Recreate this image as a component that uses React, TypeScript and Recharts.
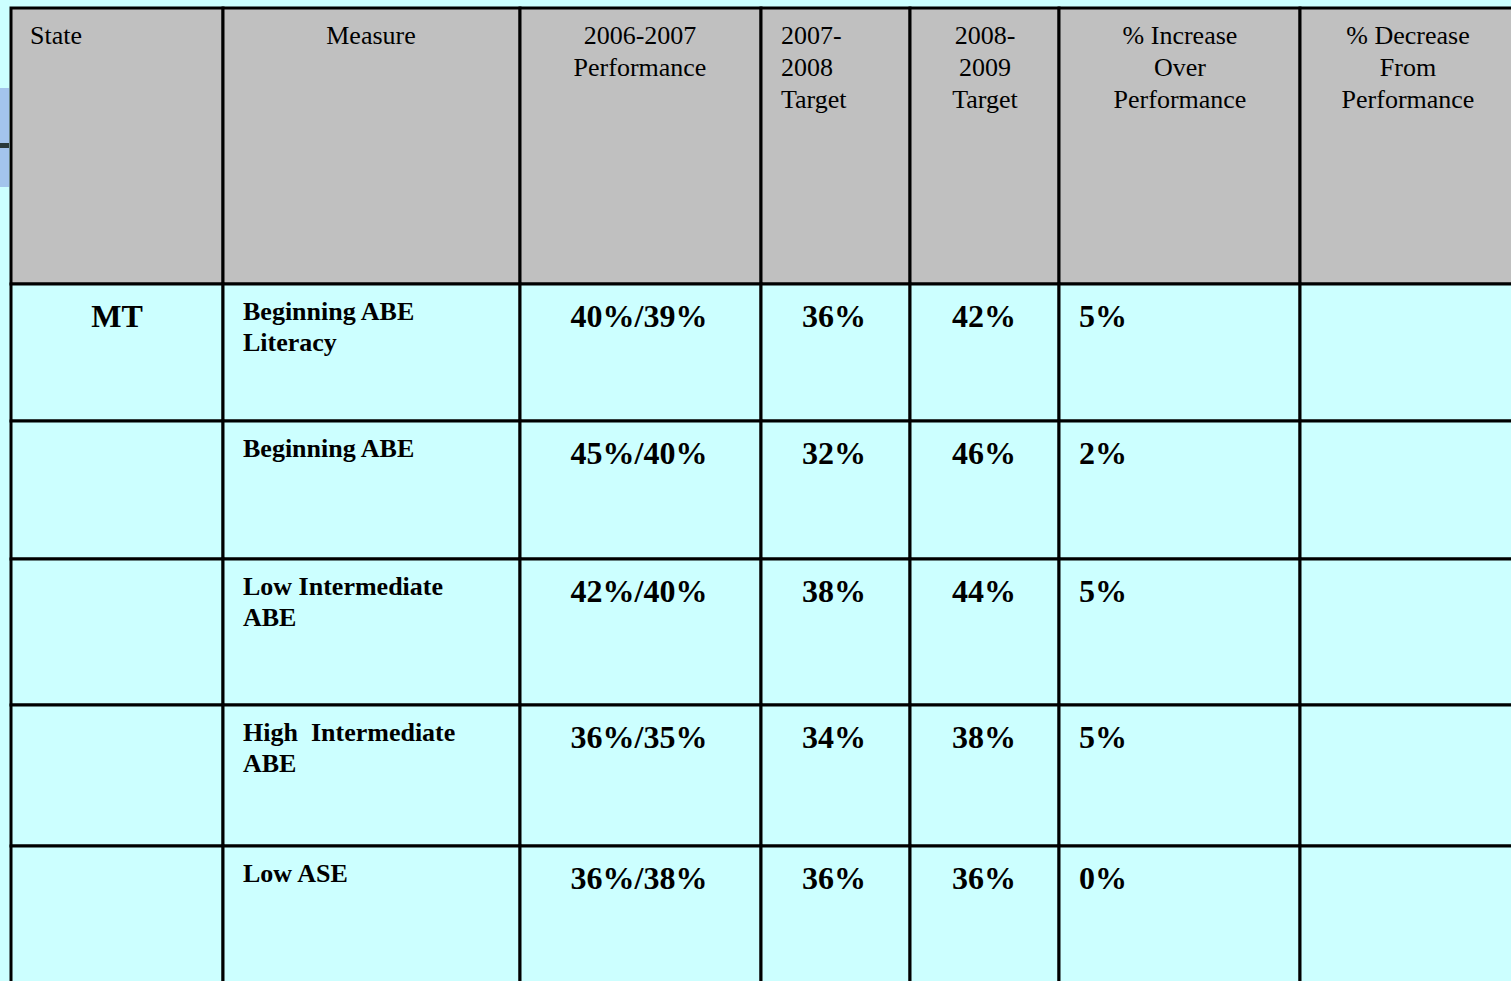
import React from 'react'
import { ComposedChart, XAxis, YAxis, ReferenceArea, Scatter } from 'recharts'

// table content
const headers = [
  ['State'],
  ['Measure'],
  ['2006-2007', 'Performance'],
  ['2007-', '2008', 'Target'],
  ['2008-', '2009', 'Target'],
  ['% Increase', 'Over', 'Performance'],
  ['% Decrease', 'From', 'Performance'],
]
const states = ['MT', '', '', '', '']
const measures = [
  ['Beginning ABE', 'Literacy'],
  ['Beginning ABE'],
  ['Low Intermediate', 'ABE'],
  ['High  Intermediate', 'ABE'],
  ['Low ASE'],
]
const performance = ['40%/39%', '45%/40%', '42%/40%', '36%/35%', '36%/38%']
const target2008 = ['36%', '32%', '38%', '34%', '36%']
const target2009 = ['42%', '46%', '44%', '38%', '36%']
const increase = ['5%', '2%', '5%', '5%', '0%']
const decrease = ['', '', '', '', '']

// layout
const W = 1511
const H = 981
const colEdges = [11, 223, 520, 761, 910, 1059, 1300, 1530]
const rowEdges = [8, 284, 421, 559, 705, 846, 1000]
const headAnchor: [number, string][] = [
  [30, 'start'], [371, 'middle'], [640, 'middle'], [781, 'start'],
  [985, 'middle'], [1180, 'middle'], [1408, 'middle'],
]
const bodyAnchor: [number, string][] = [
  [117, 'middle'], [243, 'start'], [639, 'middle'], [834, 'middle'],
  [984, 'middle'], [1079, 'start'], [1408, 'middle'],
]

type TextItem = {
  x: number
  y: number
  lines: string[]
  anchor: string
  size: number
  weight: string
  lh: number
}

const textItems: TextItem[] = []
headers.forEach((lines, c) => {
  textItems.push({ x: headAnchor[c][0], y: 44, lines, anchor: headAnchor[c][1], size: 26, weight: 'normal', lh: 32 })
})
const bodyCols = [states, measures, performance, target2008, target2009, increase, decrease]
bodyCols.forEach((col, c) => {
  col.forEach((v, r) => {
    const lines = Array.isArray(v) ? v : [v]
    if (!lines[0]) return
    const top = rowEdges[r + 1]
    const isMeasure = c === 1
    textItems.push({
      x: bodyAnchor[c][0],
      y: top + (isMeasure ? 36 : 43),
      lines,
      anchor: bodyAnchor[c][1],
      size: isMeasure ? 26 : 32,
      weight: 'bold',
      lh: 31,
    })
  })
})

const CellText = (props: any) => {
  const { cx, cy, payload } = props
  return (
    <text
      x={cx}
      y={cy}
      textAnchor={payload.anchor}
      fontFamily="'Liberation Serif', 'Times New Roman', serif"
      fontSize={payload.size}
      fontWeight={payload.weight}
      fill="#000"
      style={{ whiteSpace: 'pre' }}
    >
      {payload.lines.map((l: string, i: number) => (
        <tspan key={i} x={cx} dy={i === 0 ? 0 : payload.lh}>
          {l}
        </tspan>
      ))}
    </text>
  )
}

export default function App() {
  const cells: React.ReactNode[] = []
  for (let r = 0; r < rowEdges.length - 1; r++) {
    for (let c = 0; c < colEdges.length - 1; c++) {
      cells.push(
        <ReferenceArea
          key={`cell-${r}-${c}`}
          x1={colEdges[c]}
          x2={colEdges[c + 1]}
          y1={rowEdges[r]}
          y2={rowEdges[r + 1]}
          fill={r === 0 ? '#C0C0C0' : '#CCFFFF'}
          fillOpacity={1}
          stroke="#000"
          strokeWidth={3}
          ifOverflow="hidden"
        />
      )
    }
  }

  return (
    <div style={{ position: 'fixed', left: 0, top: 0, width: W, height: H, background: '#CCFFFF' }}>
      <ComposedChart width={W} height={H} margin={{ top: 0, right: 0, bottom: 0, left: 0 }}>
        <XAxis type="number" dataKey="x" domain={[0, W]} hide allowDataOverflow />
        <YAxis type="number" dataKey="y" domain={[0, H]} reversed hide allowDataOverflow />
        <ReferenceArea x1={0} x2={9} y1={88} y2={187} fill="#A3C4EC" fillOpacity={1} ifOverflow="hidden" />
        <ReferenceArea x1={0} x2={9} y1={143} y2={148} fill="#2B3A3A" fillOpacity={1} ifOverflow="hidden" />
        {cells}
        <Scatter data={textItems} shape={CellText} isAnimationActive={false} />
      </ComposedChart>
    </div>
  )
}
